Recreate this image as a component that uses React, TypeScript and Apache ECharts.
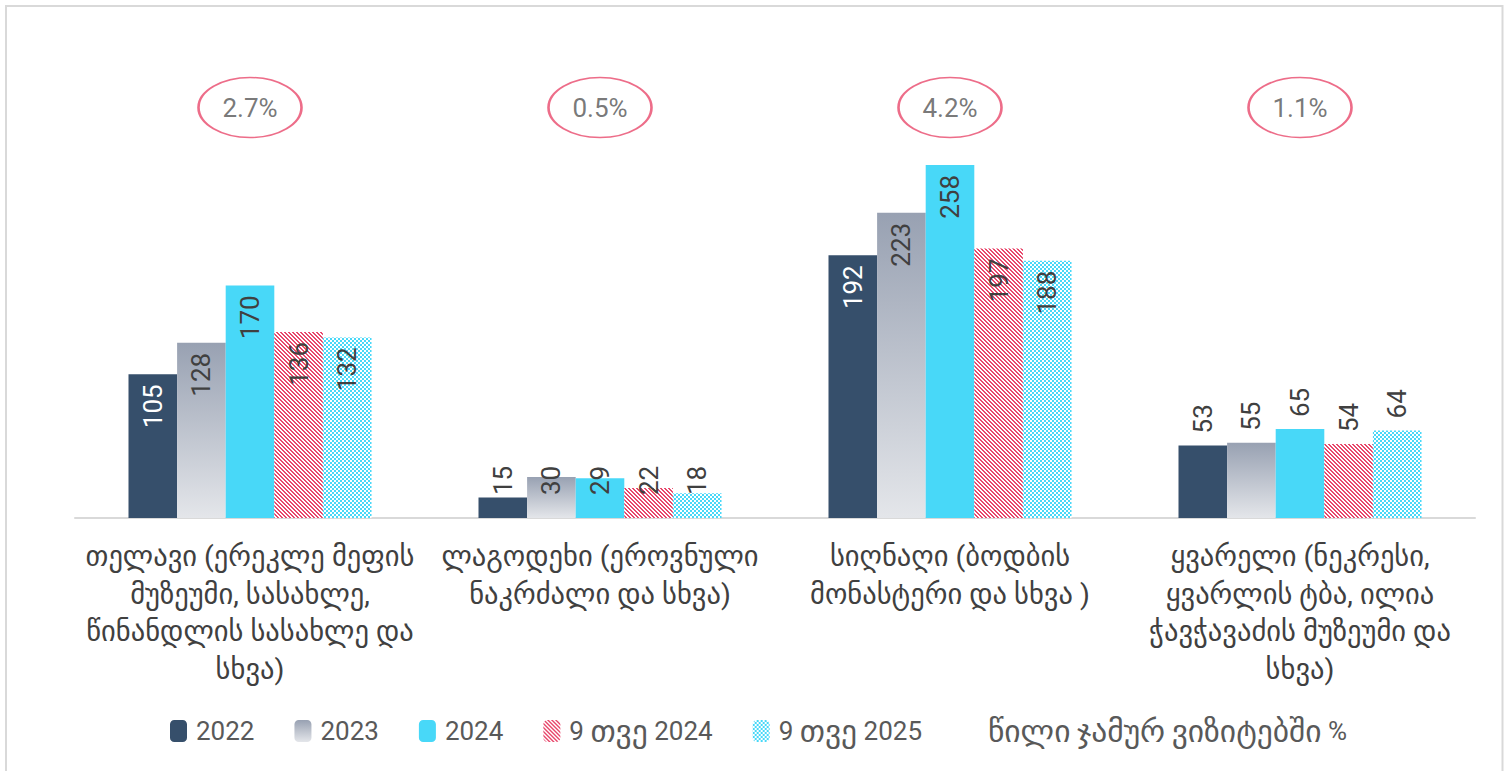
import React, { useEffect, useRef } from "react";
import * as echarts from "echarts";

const categories = [
  "თელავი (ერეკლე მეფის\nმუზეუმი, სასახლე,\nწინანდლის სასახლე და\nსხვა)",
  "ლაგოდეხი (ეროვნული\nნაკრძალი და სხვა)",
  "სიღნაღი (ბოდბის\nმონასტერი და სხვა )",
  "ყვარელი (ნეკრესი,\nყვარლის ტბა, ილია\nჭავჭავაძის მუზეუმი და\nსხვა)",
];
const seriesNames = ["2022", "2023", "2024", "9 თვე 2024", "9 თვე 2025"];
const v2022 = [105, 15, 192, 53];
const v2023 = [128, 30, 223, 55];
const v2024 = [170, 29, 258, 65];
const v9m2024 = [136, 22, 197, 54];
const v9m2025 = [132, 18, 188, 64];
const shareName = "წილი ჯამურ ვიზიტებში %";
const sharePct = [2.7, 0.5, 4.2, 1.1];

const FONT = 'Roboto, "DejaVu Sans", sans-serif';
const NAVY = "#364f6b";
const CYAN = "#48d8f8";
const PINK = "#e8486c";
const TEXT = "#404040";

function makeTile(kind: "stripe" | "checker") {
  const c = document.createElement("canvas");
  c.width = 4;
  c.height = 4;
  const ctx = c.getContext("2d")!;
  ctx.fillStyle = "#ffffff";
  ctx.fillRect(0, 0, 4, 4);
  for (let y = 0; y < 4; y++) {
    for (let x = 0; x < 4; x++) {
      let on = false;
      if (kind === "stripe") on = (x - y + 8) % 4 < 2;
      else on = ((x >> 1) + (y >> 1)) % 2 === 0;
      if (on) {
        ctx.fillStyle = kind === "stripe" ? PINK : CYAN;
        ctx.fillRect(x, y, 1, 1);
      }
    }
  }
  return c;
}

export default function App() {
  const ref = useRef<HTMLDivElement>(null);
  useEffect(() => {
    if (!ref.current) return;
    const chart = echarts.init(ref.current, null, { renderer: "svg" });
    const stripe = makeTile("stripe");
    const checker = makeTile("checker");

    const colors: any[] = [
      NAVY,
      new echarts.graphic.LinearGradient(0, 0, 0, 1, [
        { offset: 0, color: "#98a1b2" },
        { offset: 1, color: "#e4e6ea" },
      ]),
      CYAN,
      { image: stripe, repeat: "repeat", imageWidth: 4, imageHeight: 4 },
      { image: checker, repeat: "repeat", imageWidth: 4, imageHeight: 4 },
    ];
    const values = [v2022, v2023, v2024, v9m2024, v9m2025];

    const labelFor = (v: number, si: number) => {
      const base = {
        show: true,
        rotate: 90,
        fontSize: 26,
        fontFamily: FONT,
        color: TEXT,
        verticalAlign: "middle",
      };
      if (v >= 80) {
        return { ...base, position: "insideTop", align: "right", distance: 10, color: si === 0 ? "#ffffff" : TEXT };
      }
      if (v < 40) {
        return { ...base, position: "insideBottom", align: "left", distance: 23 };
      }
      return { ...base, position: "top", align: "left", distance: 12 };
    };

    const barSeries = values.map((arr, si) => ({
      name: seriesNames[si],
      type: "bar",
      barWidth: 48.6,
      barGap: "0%",
      itemStyle: { color: colors[si] },
      data: arr.map((v) => ({ value: v, label: labelFor(v, si) })),
    }));

    const ellipsePath =
      "path://M0,50 C0,22.4 22.4,0 50,0 C77.6,0 100,22.4 100,50 C100,77.6 77.6,100 50,100 C22.4,100 0,77.6 0,50 Z";

    const geo = (s: string) => s.replace(/([\u10A0-\u10FF]+)/g, "{g|$1}");

    chart.setOption({
      animation: false,
      graphic: [
        {
          type: "rect",
          shape: { x: 6, y: 6, width: 1496.5, height: 900 },
          style: { fill: "none", stroke: "#d9d9d9", lineWidth: 2 },
          silent: true,
        },
      ],
      grid: { left: 75, right: 32, top: 107.5, height: 410.5 },
      legend: {
        left: 170,
        top: 715,
        padding: 0,
        itemWidth: 17,
        itemHeight: 22,
        itemGap: 40,
        formatter: (n: string) => geo(n),
        textStyle: {
          fontSize: 26,
          lineHeight: 22,
          fontFamily: FONT,
          color: "#595959",
          padding: [0, 0, 0, 4],
          rich: {
            g: { fontSize: 31.5, lineHeight: 22, fontFamily: FONT, color: "#595959" },
          },
        },
        data: [
          ...seriesNames.map((n) => ({ name: n })),
          { name: shareName, icon: "rect", itemStyle: { color: "rgba(0,0,0,0)", borderWidth: 0, opacity: 0 } },
        ],
      },
      xAxis: {
        type: "category",
        data: categories,
        axisLine: { show: true, lineStyle: { color: "#d9d9d9", width: 2 } },
        axisTick: { show: false },
        axisLabel: {
          interval: 0,
          fontSize: 28.5,
          lineHeight: 37.5,
          margin: 20,
          color: TEXT,
          fontFamily: FONT,
          align: "center",
        },
      },
      yAxis: {
        type: "value",
        min: 0,
        max: 300,
        show: false,
        splitLine: { show: false },
      },
      series: [
        ...barSeries,
        {
          name: shareName,
          type: "scatter",
          symbol: ellipsePath,
          symbolSize: [103, 60],
          z: 5,
          itemStyle: { color: "#ffffff", borderColor: PINK, borderWidth: 2 },
          label: {
            show: true,
            position: "inside",
            fontSize: 26,
            fontFamily: FONT,
            color: "#555555",
            formatter: (p: any) => p.value[2].toFixed(1) + "%",
          },
          data: sharePct.map((p, i) => [i, 300, p]),
        },
      ],
    });
    return () => chart.dispose();
  }, []);
  return (
    <div
      ref={ref}
      style={{ position: "fixed", left: 0, top: 0, width: 1507, height: 771, background: "#ffffff" }}
    />
  );
}
